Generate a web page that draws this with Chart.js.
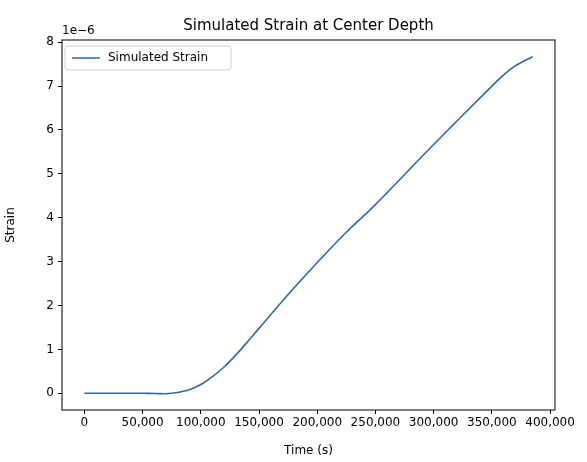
<!DOCTYPE html>
<html>
<head>
<script src="https://cdn.jsdelivr.net/npm/chart.js@4"></script>
<style>body{margin:0;background:#fff}</style>
</head>
<body>
<div style="width:587px;height:462px"><canvas id="c"></canvas></div>
<script>
// time in seconds, strain in units of 1e-6
const times = [0, 20000, 40000, 50000, 60000, 70000, 80000, 90000, 100000, 110000, 120000, 130000, 140000, 150000, 175000, 200000, 225000, 250000, 300000, 350000, 360000, 370000, 385000];
const strain = [0, 0, 0, 0, -0.005, -0.01, 0.02, 0.08, 0.2, 0.38, 0.6, 0.87, 1.17, 1.48, 2.25, 2.98, 3.67, 4.3, 5.67, 7.0, 7.25, 7.46, 7.67];
const xTicks = [0, 50000, 100000, 150000, 200000, 250000, 300000, 350000, 400000];
const yTicks = [0, 1, 2, 3, 4, 5, 6, 7, 8];

const FONT = 'DejaVu Sans';
Chart.defaults.font.family = FONT;
Chart.defaults.color = '#000';

const frame = {
  id: 'frame',
  afterDraw(chart) {
    const { ctx, chartArea: a } = chart;
    ctx.save();
    ctx.strokeStyle = '#000';
    ctx.lineWidth = 1;
    ctx.strokeRect(a.left, a.top, a.right - a.left, a.bottom - a.top);
    ctx.fillStyle = '#000';
    ctx.font = '15px ' + FONT;
    ctx.textAlign = 'center';
    ctx.fillText('Simulated Strain at Center Depth', (a.left + a.right) / 2, 30);
    ctx.font = '12px ' + FONT;
    ctx.textAlign = 'left';
    ctx.fillText('1e\u22126', a.left, 34);
    // legend
    ctx.fillStyle = '#fff';
    ctx.strokeStyle = '#ccc';
    ctx.beginPath();
    ctx.roundRect(a.left + 3, a.top + 6, 166, 24, 3);
    ctx.fill(); ctx.stroke();
    ctx.strokeStyle = '#2e67ab';
    ctx.lineWidth = 1.5;
    ctx.beginPath();
    ctx.moveTo(a.left + 10, a.top + 18);
    ctx.lineTo(a.left + 38, a.top + 18);
    ctx.stroke();
    ctx.fillStyle = '#000';
    ctx.textBaseline = 'middle';
    ctx.fillText(chart.data.datasets[0].label, a.left + 46, a.top + 18);
    ctx.restore();
  }
};

new Chart(document.getElementById('c'), {
  type: 'line',
  data: {
    datasets: [{
      label: 'Simulated Strain',
      data: times.map((t, i) => ({ x: t, y: strain[i] })),
      borderColor: '#2e67ab',
      borderWidth: 1.6,
      pointRadius: 0,
      tension: 0.3,
      fill: false
    }]
  },
  options: {
    responsive: true,
    maintainAspectRatio: false,
    animation: false,
    layout: { padding: { top: 40, right: 32, left: 0, bottom: 0 } },
    plugins: { legend: { display: false }, tooltip: { enabled: false } },
    scales: {
      x: {
        type: 'linear', min: -19250, max: 404250,
        afterBuildTicks: s => { s.ticks = xTicks.map(v => ({ value: v })); },
        afterFit: s => { s.height = 52; },
        ticks: { font: { size: 12 }, maxRotation: 0, autoSkip: false, padding: 2 },
        grid: { drawOnChartArea: false, tickLength: 4, color: '#000' },
        border: { display: false },
        title: { display: true, text: 'Time (s)', font: { size: 12 }, padding: { top: 2 } }
      },
      y: {
        type: 'linear', min: -0.38, max: 8.05,
        afterBuildTicks: s => { s.ticks = yTicks.map(v => ({ value: v })); },
        afterFit: s => { s.width = 62; },
        ticks: { font: { size: 12 }, autoSkip: false, padding: 4 },
        grid: { drawOnChartArea: false, tickLength: 4, color: '#000' },
        border: { display: false },
        title: { display: true, text: 'Strain', font: { size: 12 }, padding: { bottom: 4 } }
      }
    }
  },
  plugins: [frame]
});
</script>
</body>
</html>
